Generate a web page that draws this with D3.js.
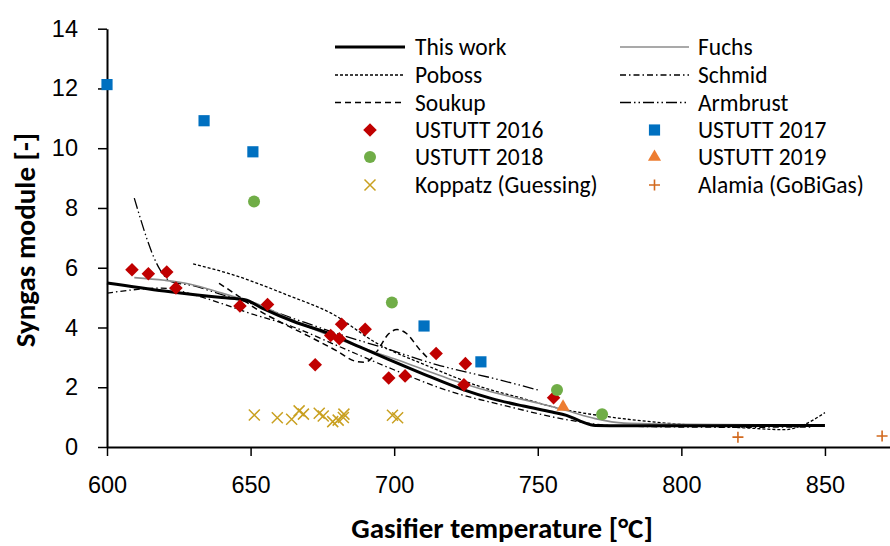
<!DOCTYPE html>
<html>
<head>
<meta charset="utf-8">
<script src="https://cdn.jsdelivr.net/npm/d3@7"></script>
<style>
  html, body { margin: 0; padding: 0; background: #fff; }
  svg { display: block; font-family: Carlito, Calibri, Lato, "Open Sans", sans-serif; }
</style>
</head>
<body>
<svg id="chart" width="890" height="546"></svg>
<script>
// ---- model curves: [temperature °C, syngas module] ----
const thisWork = [[600,5.49],[620,5.22],[640,5.0],[648,4.93],[654,4.65],[665,4.2],[677,3.81],[688,3.35],[698,2.93],[710,2.45],[724,1.92],[734,1.62],[745,1.37],[755,1.17],[760,1.06],[765,0.86],[770,0.72],[780,0.71],[850,0.72]];
const fuchs = [[609.5,5.67],[620,5.58],[629,5.45],[640,5.15],[646,4.98],[650,4.87],[660,4.45],[670,4.02],[680,3.63],[690,3.28],[700,2.95],[710,2.6],[720,2.25],[730,1.95],[740,1.7],[750,1.47],[760,1.22],[770,0.95],[780,0.8],[800,0.76],[840,0.74]];
const poboss = [[630,6.13],[643,5.79],[664,5.04],[678,4.48],[694,3.47],[712,2.7],[730,2.02],[745,1.62],[757,1.3],[774,1.02],[790,0.84],[806,0.72],[822,0.64],[836,0.58],[842,0.72],[850,1.15]];
const schmid = [[600,5.15],[609,5.26],[619,5.32],[630,5.1],[640,4.8],[648,4.53],[664,4.05],[680,3.4],[697,2.7],[718,1.91],[740,1.35],[761,0.9],[775,0.72],[790,0.68],[820,0.66],[845,0.67]];
const soukup = [[639,5.48],[645,5.1],[652,4.62],[660,4.2],[670,3.72],[680,3.22],[687,2.86],[690,2.84],[694,3.2],[698,3.78],[701,3.93],[704,3.82],[709,3.25],[712,2.95]];
const armbrust = [[609.5,8.33],[618.5,5.93],[622,5.55],[630,5.4],[640,5.1],[650,4.81],[665,4.3],[680,3.8],[697,3.3],[715,2.75],[737,2.24],[750,1.91]];

// ---- measured points ----
const ustutt2016 = [[608.7,5.93],[614.4,5.8],[620.8,5.86],[624,5.32],[646.3,4.72],[655.9,4.77],[672.5,2.75],[677.9,3.73],[680.9,3.62],[681.7,4.11],[689.9,3.94],[698.1,2.31],[703.8,2.38],[714.6,3.13],[724.8,2.79],[724.3,2.08],[755.5,1.65]];
const ustutt2017 = [[600,12.13],[633.8,10.92],[650.8,9.88],[710.4,4.05],[730.2,2.85]];
const ustutt2018 = [[651.2,8.22],[699.2,4.84],[756.7,1.91],[772.4,1.1]];
const ustutt2019 = [[758.8,1.34]];
const koppatz = [[651.3,1.07],[659.3,0.98],[664.3,0.93],[666.9,1.21],[668.4,1.1],[673.9,1.13],[675.3,1.04],[678.6,0.85],[680.5,0.9],[682.3,0.99],[682.5,1.1],[699.4,1.06],[701.2,0.98]];
const alamia = [[819.7,0.33],[869.9,0.37]];

// ---- axes ----
const xTicks = [600, 650, 700, 750, 800, 850];
const yTicks = [0, 2, 4, 6, 8, 10, 12, 14];
const xTitle = "Gasifier temperature [°C]";
const yTitle = "Syngas module [-]";

const svg = d3.select("#chart");
const x = d3.scaleLinear().domain([600, 873]).range([107, 891]);
const y = d3.scaleLinear().domain([0, 14]).range([447, 28.7]);

const styles = {
  thisWork: { stroke: "#000", width: 3, dash: null },
  fuchs:    { stroke: "#8c8c8c", width: 1.6, dash: null },
  poboss:   { stroke: "#000", width: 1.3, dash: "3,2" },
  schmid:   { stroke: "#000", width: 1.3, dash: "6,3,1.5,3" },
  soukup:   { stroke: "#000", width: 1.5, dash: "6,4" },
  armbrust: { stroke: "#000", width: 1.3, dash: "11,3,1.5,3,1.5,3" }
};

// axes
const xAxis = d3.axisBottom(x).tickValues(xTicks).tickSize(9).tickSizeOuter(0).tickFormat(d3.format("d"));
const gx = svg.append("g").attr("transform", "translate(0,447)").call(xAxis);
gx.select(".domain").attr("stroke-width", 2);
gx.selectAll(".tick line").attr("stroke-width", 1.5);
gx.selectAll(".tick text").attr("font-size", 23.5).attr("y", 29).attr("dy", "0.71em").attr("fill", "#000");

const yAxis = d3.axisLeft(y).tickValues(yTicks).tickSize(9).tickSizeOuter(0).tickFormat(d3.format("d"));
const gy = svg.append("g").attr("transform", "translate(107,0)").call(yAxis);
gy.select(".domain").attr("stroke-width", 2);
gy.selectAll(".tick line").attr("stroke-width", 1.5);
gy.selectAll(".tick text").attr("font-size", 23.5).attr("x", -29).attr("fill", "#000");
svg.selectAll(".domain").attr("stroke", "#000");

svg.append("text").attr("x", 502).attr("y", 538).attr("text-anchor", "middle")
  .attr("font-size", 29).attr("font-weight", "bold").text(xTitle);
svg.append("text").attr("transform", "translate(35,240) rotate(-90)").attr("text-anchor", "middle")
  .attr("font-size", 29).attr("font-weight", "bold").text(yTitle);

// model lines
const line = d3.line().x(d => x(d[0])).y(d => y(d[1])).curve(d3.curveMonotoneX);
const curves = [
  ["schmid", schmid], ["armbrust", armbrust], ["soukup", soukup],
  ["poboss", poboss], ["fuchs", fuchs], ["thisWork", thisWork]
];
curves.forEach(([k, data]) => {
  const s = styles[k];
  svg.append("path").datum(data).attr("d", line).attr("fill", "none")
    .attr("stroke", s.stroke).attr("stroke-width", s.width)
    .attr("stroke-dasharray", s.dash).attr("stroke-linejoin", "round");
});

// marker drawing helpers
const markers = {
  diamond: (g, cx, cy) => g.append("path").attr("d", d3.symbol(d3.symbolSquare, 92)())
    .attr("transform", `translate(${cx},${cy}) rotate(45)`).attr("fill", "#C00000"),
  square: (g, cx, cy) => g.append("path").attr("d", d3.symbol(d3.symbolSquare, 125)())
    .attr("transform", `translate(${cx},${cy})`).attr("fill", "#0070C0"),
  circle: (g, cx, cy) => g.append("circle").attr("cx", cx).attr("cy", cy).attr("r", 6).attr("fill", "#70AD47"),
  triangle: (g, cx, cy) => g.append("path").attr("d", d3.symbol(d3.symbolTriangle, 75)())
    .attr("transform", `translate(${cx},${cy})`).attr("fill", "#ED7D31"),
  cross: (g, cx, cy) => g.append("path")
    .attr("d", `M${cx-5.5},${cy-5.5}L${cx+5.5},${cy+5.5}M${cx-5.5},${cy+5.5}L${cx+5.5},${cy-5.5}`)
    .attr("stroke", "#C9A020").attr("stroke-width", 1.5).attr("fill", "none"),
  plus: (g, cx, cy) => g.append("path")
    .attr("d", `M${cx-5.5},${cy}L${cx+5.5},${cy}M${cx},${cy-5.5}L${cx},${cy+5.5}`)
    .attr("stroke", "#D2691E").attr("stroke-width", 1.6).attr("fill", "none")
};

const pointSets = [
  ["cross", koppatz], ["plus", alamia], ["diamond", ustutt2016],
  ["square", ustutt2017], ["circle", ustutt2018], ["triangle", ustutt2019]
];
const gp = svg.append("g");
pointSets.forEach(([m, data]) => data.forEach(d => markers[m](gp, x(d[0]), y(d[1]))));

// legend
const legendItems = [
  { label: "This work", line: "thisWork", col: 0, row: 0 },
  { label: "Fuchs", line: "fuchs", col: 1, row: 0 },
  { label: "Poboss", line: "poboss", col: 0, row: 1 },
  { label: "Schmid", line: "schmid", col: 1, row: 1 },
  { label: "Soukup", line: "soukup", col: 0, row: 2 },
  { label: "Armbrust", line: "armbrust", col: 1, row: 2 },
  { label: "USTUTT 2016", marker: "diamond", col: 0, row: 3 },
  { label: "USTUTT 2017", marker: "square", col: 1, row: 3 },
  { label: "USTUTT 2018", marker: "circle", col: 0, row: 4 },
  { label: "USTUTT 2019", marker: "triangle", col: 1, row: 4 },
  { label: "Koppatz (Guessing)", marker: "cross", col: 0, row: 5 },
  { label: "Alamia (GoBiGas)", marker: "plus", col: 1, row: 5 }
];
const colX = [[335, 405, 415], [620, 689, 698]];
const rowY = [47, 75, 102.5, 130, 157, 185];
const gl = svg.append("g");
legendItems.forEach(it => {
  const [x0, x1, tx] = colX[it.col];
  const cy = rowY[it.row];
  if (it.line) {
    const s = styles[it.line];
    gl.append("line").attr("x1", x0).attr("x2", x1).attr("y1", cy).attr("y2", cy)
      .attr("stroke", s.stroke).attr("stroke-width", s.width).attr("stroke-dasharray", s.dash);
  } else {
    markers[it.marker](gl, (x0 + x1) / 2, cy);
  }
  gl.append("text").attr("x", tx).attr("y", cy).attr("dy", "0.35em")
    .attr("font-size", 23.5).attr("fill", "#000").text(it.label);
});
</script>
</body>
</html>
